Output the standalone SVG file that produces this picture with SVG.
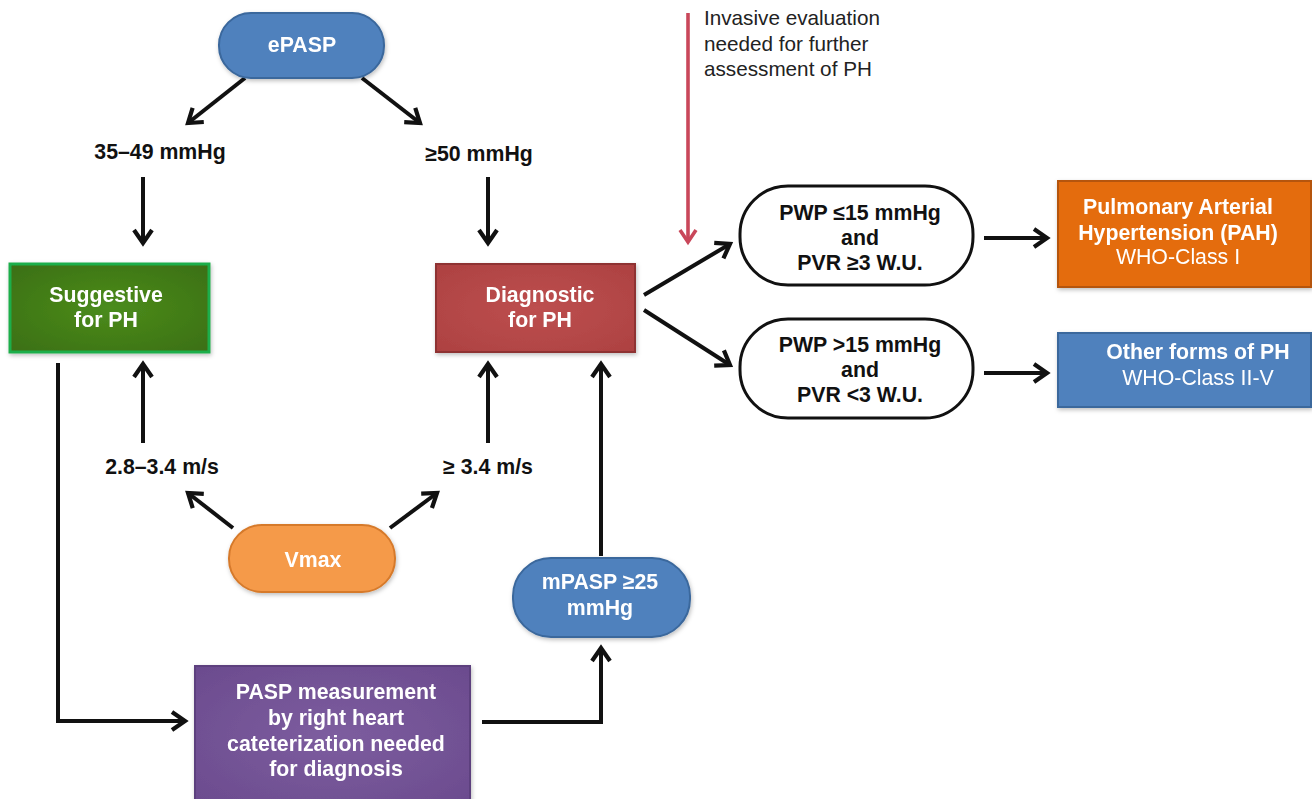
<svg xmlns="http://www.w3.org/2000/svg" width="1312" height="799" viewBox="0 0 1312 799">
<style>
  .lbl{font-family:"Liberation Sans",Arial,sans-serif;font-weight:bold;font-size:21.3px;fill:#111;text-anchor:middle}
  .wb{font-family:"Liberation Sans",Arial,sans-serif;font-weight:bold;font-size:21.3px;fill:#fff;text-anchor:middle}
  .wr{font-family:"Liberation Sans",Arial,sans-serif;font-size:21.3px;fill:#fff;text-anchor:middle}
  .note{font-family:"Liberation Sans",Arial,sans-serif;font-size:20.7px;fill:#222}
  .con{fill:none;stroke:#111;stroke-width:4;marker-end:url(#ah)}
  .node{filter:url(#sh)}
</style>
<defs>
  <marker id="ah" markerUnits="userSpaceOnUse" markerWidth="24" markerHeight="24" viewBox="0 0 24 24" refX="19" refY="12" orient="auto">
    <path d="M6,3 L19,12 L6,21" fill="none" stroke="#111" stroke-width="4.2" stroke-linejoin="miter"/>
  </marker>
  <marker id="ahr" markerUnits="userSpaceOnUse" markerWidth="24" markerHeight="24" viewBox="0 0 24 24" refX="19" refY="12" orient="auto">
    <path d="M7,4 L19,12 L7,20" fill="none" stroke="#c9475a" stroke-width="3.6"/>
  </marker>
  <filter id="sh" x="-10%" y="-10%" width="125%" height="130%">
    <feDropShadow dx="1" dy="2" stdDeviation="2" flood-color="#000" flood-opacity="0.25"/>
  </filter>
  <radialGradient id="gGreen" cx="50%" cy="50%" r="70%">
    <stop offset="0" stop-color="#4b8c1c"/><stop offset="1" stop-color="#3b6f12"/>
  </radialGradient>
  <radialGradient id="gRed" cx="50%" cy="50%" r="70%">
    <stop offset="0" stop-color="#bd4f4f"/><stop offset="1" stop-color="#ad4141"/>
  </radialGradient>
  <radialGradient id="gPurple" cx="50%" cy="50%" r="70%">
    <stop offset="0" stop-color="#7d5d9f"/><stop offset="1" stop-color="#6b4b8e"/>
  </radialGradient>
</defs>

<g id="connectors">
  <line class="con" x1="245" y1="78" x2="188" y2="123"/>
  <line class="con" x1="362" y1="78" x2="420" y2="123"/>
  <line class="con" x1="143" y1="177" x2="143" y2="243"/>
  <line class="con" x1="488" y1="177" x2="488" y2="243"/>
  <line class="con" x1="143" y1="443" x2="143" y2="364"/>
  <line class="con" x1="488" y1="443" x2="488" y2="364"/>
  <line class="con" x1="233" y1="528" x2="188" y2="493"/>
  <line class="con" x1="390" y1="528" x2="437" y2="493"/>
  <line class="con" x1="601" y1="556" x2="601" y2="364"/>
  <path class="con" d="M58,363 V721 H185"/>
  <path class="con" d="M482,722 H601 V648"/>
  <line class="con" x1="644" y1="295" x2="730" y2="244"/>
  <line class="con" x1="644" y1="310" x2="730" y2="365"/>
  <line class="con" x1="984" y1="238" x2="1047" y2="238"/>
  <line class="con" x1="984" y1="373" x2="1047" y2="373"/>
  <line x1="688" y1="13" x2="688" y2="242" stroke="#c9475a" stroke-width="3.6" marker-end="url(#ahr)"/>
</g>

<g id="note">
  <text class="note" x="704" y="25">Invasive evaluation</text>
  <text class="note" x="704" y="51">needed for further</text>
  <text class="note" x="704" y="76">assessment of PH</text>
</g>

<g id="ePASP" class="node">
  <rect x="219" y="13" width="165" height="65" rx="32" fill="#4f81bd" stroke="#3a679c" stroke-width="2"/>
  <text class="wb" x="302" y="52">ePASP</text>
</g>

<g id="lbl-35-49"><text class="lbl" x="160" y="159">35–49 mmHg</text></g>
<g id="lbl-50"><text class="lbl" x="479" y="161">≥50 mmHg</text></g>
<g id="lbl-28-34"><text class="lbl" x="162" y="474">2.8–3.4 m/s</text></g>
<g id="lbl-34"><text class="lbl" x="488" y="474">≥ 3.4 m/s</text></g>

<g id="suggestive" class="node">
  <rect x="10" y="264" width="199" height="88" fill="url(#gGreen)" stroke="#1fae4b" stroke-width="3"/>
  <text class="wb" x="106" y="302">Suggestive</text>
  <text class="wb" x="106" y="327">for PH</text>
</g>

<g id="diagnostic" class="node">
  <rect x="436" y="264" width="199" height="88" fill="url(#gRed)" stroke="#8e3131" stroke-width="2"/>
  <text class="wb" x="540" y="302">Diagnostic</text>
  <text class="wb" x="540" y="327">for PH</text>
</g>

<g id="vmax" class="node">
  <rect x="229" y="525" width="166" height="67" rx="33" fill="#f59a4a" stroke="#d67a2c" stroke-width="2"/>
  <text class="wb" x="313" y="567">Vmax</text>
</g>

<g id="mPASP" class="node">
  <rect x="513" y="558" width="177" height="79" rx="38" fill="#4f81bd" stroke="#3a679c" stroke-width="2"/>
  <text class="wb" x="600" y="589">mPASP ≥25</text>
  <text class="wb" x="600" y="615">mmHg</text>
</g>

<g id="pasp" class="node">
  <rect x="195" y="666" width="275" height="140" fill="url(#gPurple)" stroke="#5d3f7e" stroke-width="2"/>
  <text class="wb" x="336" y="699">PASP measurement</text>
  <text class="wb" x="336" y="725">by right heart</text>
  <text class="wb" x="336" y="751">cateterization needed</text>
  <text class="wb" x="336" y="776">for diagnosis</text>
</g>

<g id="pwp1">
  <rect x="740" y="186" width="233" height="99" rx="48" fill="#fff" stroke="#111" stroke-width="3"/>
  <text class="lbl" x="860" y="220">PWP ≤15 mmHg</text>
  <text class="lbl" x="860" y="245">and</text>
  <text class="lbl" x="860" y="270">PVR ≥3 W.U.</text>
</g>

<g id="pwp2">
  <rect x="740" y="319" width="233" height="99" rx="48" fill="#fff" stroke="#111" stroke-width="3"/>
  <text class="lbl" x="860" y="352">PWP &gt;15 mmHg</text>
  <text class="lbl" x="860" y="377">and</text>
  <text class="lbl" x="860" y="402">PVR &lt;3 W.U.</text>
</g>

<g id="pah" class="node">
  <rect x="1058" y="181" width="253" height="106" fill="#e46c0c" stroke="#b5540a" stroke-width="2"/>
  <text class="wb" x="1178" y="214">Pulmonary Arterial</text>
  <text class="wb" x="1178" y="240">Hypertension (PAH)</text>
  <text class="wr" x="1178" y="264">WHO-Class I</text>
</g>

<g id="other" class="node">
  <rect x="1058" y="333" width="253" height="74" fill="#4f81bd" stroke="#3a679c" stroke-width="2"/>
  <text class="wb" x="1198" y="359">Other forms of PH</text>
  <text class="wr" x="1198" y="385">WHO-Class II-V</text>
</g>
</svg>
